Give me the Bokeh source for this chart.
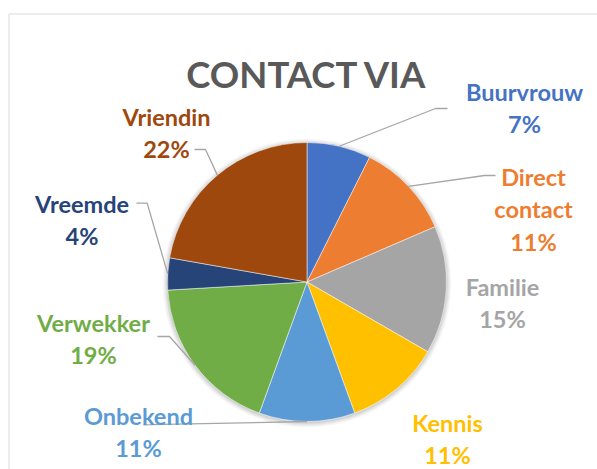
import math
from bokeh.plotting import figure
from bokeh.models import Range1d, ColumnDataSource
from bokeh.embed import file_html
from bokeh.resources import INLINE
from bokeh.core.properties import value

# ---------------- data ----------------
title_text = "CONTACT VIA"
categories = ["Buurvrouw", "Direct contact", "Familie", "Kennis",
              "Onbekend", "Verwekker", "Vreemde", "Vriendin"]
counts = [2, 3, 4, 3, 3, 5, 1, 6]
colors = ["#4472C4", "#ED7D31", "#A5A5A5", "#FFC000",
          "#5B9BD5", "#70AD47", "#264478", "#9E480E"]

# ---------------- layout (page pixel coordinates) ----------------
X0, Y0 = 0, 0
W, H = 597, 469
CX, CY, R = 306.5, 281.5, 139.5
label_x = [524, 533, 502, 447, 138, 93, 81.5, 166]
label_base = [91, 176, 286, 422, 415, 322, 203, 116]
line_step = 32.5
leader_elbow = [(435, 108), (484, 175), None, None, (150, 424.2), (169, 336), (146.7, 202.7), (205, 149)]
leader_end = [(447, 108), (495, 175), None, None, (143, 424.3), (157, 336), (136, 202.7), (194, 149)]
FONT = "Lato"
LABEL_SIZE = "23.5px"
TITLE_SIZE = "36.5px"


def PX(ix):
    return ix


def PY(iy):
    return (Y0 + H) - iy


p = figure(width=W, height=H, output_backend="svg", toolbar_location=None,
           x_range=Range1d(X0, X0 + W), y_range=Range1d(0, H),
           x_axis_type=None, y_axis_type=None, min_border=0,
           outline_line_color=None, background_fill_color="white",
           border_fill_color="white")
p.grid.visible = False

# chart area border (top and left visible)
p.line([8.5, X0 + W], [PY(13.5), PY(13.5)], line_color="#D9D9D9", line_width=1)
p.line([8.5, 8.5], [PY(13.5), 0], line_color="#D9D9D9", line_width=1)

# soft shadow around the pie
for k, a in [(5, 0.025), (4, 0.03), (3, 0.035), (2, 0.04), (1, 0.05)]:
    p.circle(x=[PX(CX)], y=[PY(CY) - 1], radius=R + k, radius_units="screen",
             fill_color="black", fill_alpha=a, line_color=None)

# wedges
total = sum(counts)
starts, ends, mids = [], [], []
cum = 0
for c in counts:
    a0 = math.pi / 2 - 2 * math.pi * cum / total
    cum += c
    a1 = math.pi / 2 - 2 * math.pi * cum / total
    starts.append(a0)
    ends.append(a1)
    mids.append((a0 + a1) / 2)

src = ColumnDataSource(dict(x=[PX(CX)] * len(counts), y=[PY(CY)] * len(counts),
                            start=starts, end=ends, color=colors, cat=categories))
p.wedge(x="x", y="y", radius=R, radius_units="screen", start_angle="start",
        end_angle="end", direction="clock", fill_color="color",
        line_color="white", line_width=0.5, source=src)

# leader lines
lxs, lys = [], []
for m, el, en in zip(mids, leader_elbow, leader_end):
    if el is None:
        continue
    ex = PX(CX) + R * math.cos(m)
    ey = PY(CY) + R * math.sin(m)
    lxs.append([ex, PX(el[0]), PX(en[0])])
    lys.append([ey, PY(el[1]), PY(en[1])])
p.multi_line(xs=lxs, ys=lys, line_color="#A6A6A6", line_width=1.3)

# labels
tx, ty, tt, tc = [], [], [], []
for cat, c, col, lx, lb in zip(categories, counts, colors, label_x, label_base):
    lines = cat.split(" ") + [f"{round(100 * c / total)}%"]
    for i, ln in enumerate(lines):
        tx.append(PX(lx))
        ty.append(PY(lb + i * line_step))
        tt.append(ln)
        tc.append(col)
p.text(x=tx, y=ty, text=tt, text_color=tc, text_font=value(FONT),
       text_font_style="bold", text_font_size=LABEL_SIZE,
       text_align="center", text_baseline="alphabetic")

# title
p.text(x=[PX(306.5)], y=[PY(73)], text=[title_text], text_color="#595959",
       text_font=value(FONT), text_font_style="bold", text_font_size=TITLE_SIZE,
       text_align="center", text_baseline="alphabetic")

open("out.html", "w").write(file_html(p, INLINE))
